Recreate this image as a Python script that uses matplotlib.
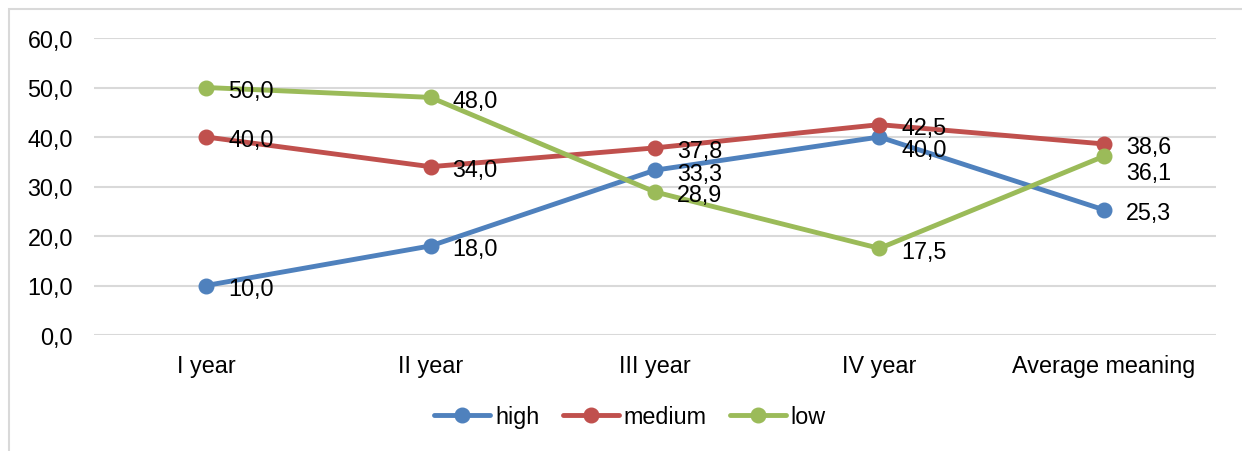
import matplotlib
matplotlib.use("Agg")
import matplotlib.pyplot as plt
from matplotlib.patches import Rectangle

categories = ["I year", "II year", "III year", "IV year", "Average meaning"]
high = [10.0, 18.0, 33.3, 40.0, 25.3]
medium = [40.0, 34.0, 37.8, 42.5, 38.6]
low = [50.0, 48.0, 28.9, 17.5, 36.1]
y_ticks = [0, 10, 20, 30, 40, 50, 60]

series = [
    ("high", high, "#4F81BD"),
    ("medium", medium, "#C0504D"),
    ("low", low, "#9BBB59"),
]

# extra vertical nudges (pixels) for labels that would otherwise collide
label_nudge = {
    ("high", 3): -10,
    ("low", 4): -13,
}

plt.rcParams["font.family"] = ["Liberation Sans", "DejaVu Sans"]
FS = 16.8

W, H, DPI = 1242, 452, 100
fig = plt.figure(figsize=(W / DPI, H / DPI), dpi=DPI)

# light chart-area frame
fig.add_artist(Rectangle((9 / W, -0.1), 1.2, (H - 10) / H + 0.1,
                         transform=fig.transFigure, fill=False,
                         edgecolor="#D9D9D9", linewidth=1.5, zorder=0))

left, right = 94 / W, 1216 / W
top, bottom = 1 - 39 / H, 1 - 336 / H
ax = fig.add_axes([left, bottom, right - left, top - bottom])

x = list(range(len(categories)))
for name, vals, color in series:
    ax.plot(x, vals, color=color, linewidth=3.5, marker="o", markersize=10.5,
            label=name, solid_capstyle="round", zorder=3)

for name, vals, color in series:
    for i, v in enumerate(vals):
        dy = -3 + label_nudge.get((name, i), 0)
        ax.annotate(f"{v:.1f}".replace(".", ","), (i, v),
                    xytext=(22, dy), textcoords="offset pixels",
                    ha="left", va="center", fontsize=FS, color="#000000",
                    zorder=4)

ax.set_xlim(-0.5, len(categories) - 0.5)
ax.set_ylim(0, 60)
ax.set_yticks(y_ticks)
ax.set_yticklabels([f"{t:.1f}".replace(".", ",") for t in y_ticks])
ax.set_xticks(x)
ax.set_xticklabels(categories)
ax.tick_params(axis="both", length=0, labelsize=FS, colors="#000000")
ax.tick_params(axis="y", pad=15)
ax.tick_params(axis="x", pad=14)
ax.grid(axis="y", color="#D9D9D9", linewidth=1.5)
ax.set_axisbelow(True)
for s in ax.spines.values():
    s.set_visible(False)

leg = fig.legend(loc="center", bbox_to_anchor=(630 / W, 1 - 418 / H),
                 ncol=3, frameon=False, fontsize=FS, handlelength=2.4,
                 columnspacing=1.0, handletextpad=0.2)

fig.savefig("out.png", dpi=DPI)
